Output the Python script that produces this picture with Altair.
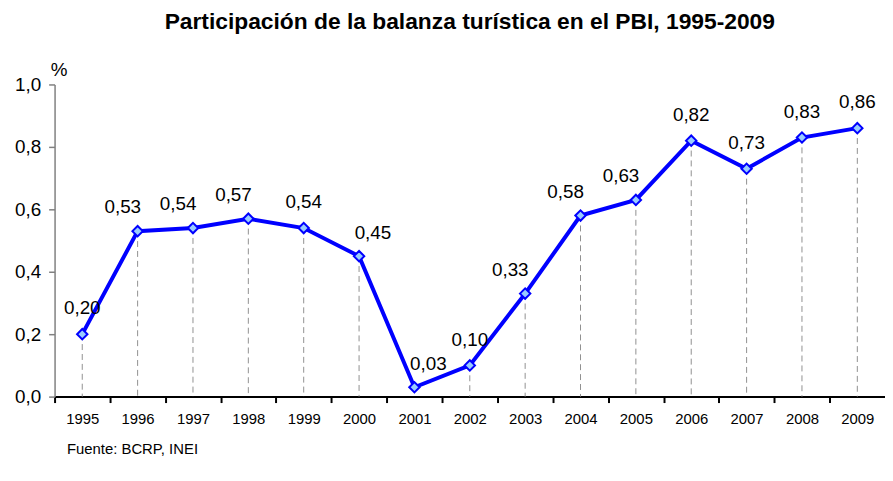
import altair as alt
import pandas as pd

# ---- data ----
years = [1995, 1996, 1997, 1998, 1999, 2000, 2001, 2002, 2003, 2004, 2005, 2006, 2007, 2008, 2009]
values = [0.20, 0.53, 0.54, 0.57, 0.54, 0.45, 0.03, 0.10, 0.33, 0.58, 0.63, 0.82, 0.73, 0.83, 0.86]
y_ticks = [0.0, 0.2, 0.4, 0.6, 0.8, 1.0]
title_text = "Participación de la balanza turística en el PBI, 1995-2009"
source_text = "Fuente: BCRP, INEI"

# label placement groups (styling)
above_years = [1995, 1999, 2002, 2006, 2007, 2008, 2009]
left_years = [1996, 1997, 1998, 2003, 2004, 2005]
right_years = [2000, 2001]

df = pd.DataFrame({"year": years, "value": values})

W, H = 838, 315
FONT = "Liberation Sans"

x_enc = alt.X(
    "year:Q",
    scale=alt.Scale(domain=[years[0] - 0.5, years[-1] + 0.5], nice=False, zero=False),
    axis=alt.Axis(
        values=[y - 0.5 for y in years],
        labelExpr="format(datum.value + 0.5, 'd')",
        labelOffset=W / len(years) / 2,
        labelFontSize=15,
        labelColor="black",
        labelPadding=9,
        labelFlush=False,
        labelOverlap=False,
        grid=False,
        domainColor="black",
        domainWidth=2,
        tickColor="black",
        tickWidth=2,
        tickSize=6,
        title=source_text,
        titleFontSize=15,
        titleFontWeight="normal",
        titleColor="black",
        titleAlign="left",
        titleBaseline="middle",
        titleX=12,
        titleY=52,
    ),
)

y_enc = alt.Y(
    "value:Q",
    scale=alt.Scale(domain=[0, 1], nice=False, zero=True),
    axis=alt.Axis(
        values=y_ticks,
        labelExpr="replace(format(datum.value, '.1f'), '.', ',')",
        labelFontSize=19,
        labelColor="black",
        labelPadding=8,
        grid=False,
        domainColor="#808080",
        domainWidth=1.5,
        tickColor="#808080",
        tickWidth=1.5,
        tickSize=6,
        title="%",
        titleAngle=0,
        titleFontSize=19,
        titleFontWeight="normal",
        titleColor="black",
        titleAlign="center",
        titleBaseline="middle",
        titleX=4,
        titleY=-15,
    ),
)

base = alt.Chart(df)

drops = base.mark_rule(color="#909090", strokeDash=[6, 4], strokeWidth=1).encode(
    x=x_enc, y=alt.Y("value:Q"), y2=alt.datum(0)
)
line = base.mark_line(color="#0000FF", strokeWidth=4).encode(x=x_enc, y=y_enc)
points = base.mark_point(
    shape="diamond", filled=True, fill="#99CCFF", stroke="#0000FF",
    strokeWidth=2, size=110, opacity=1, fillOpacity=1
).encode(x=x_enc, y=y_enc)

label_text = alt.Text("label:N")


def labels(yrs, dx, dy):
    return (
        base.transform_filter(alt.FieldOneOfPredicate(field="year", oneOf=yrs))
        .transform_calculate(label="replace(format(datum.value, '.2f'), '.', ',')")
        .mark_text(fontSize=19, color="black", dx=dx, dy=dy, baseline="middle", align="center", font=FONT)
        .encode(x=x_enc, y=y_enc, text=label_text)
    )


chart = alt.layer(
    drops,
    line,
    points,
    labels(above_years, 0, -26),
    labels(left_years, -15, -24),
    labels(right_years, 14, -23),
).properties(
    width=W,
    height=H,
    autosize="none",
    padding={"left": 47, "top": 75, "right": 0, "bottom": 83},
    title=alt.TitleParams(
        text=title_text, fontSize=23, fontWeight="bold", anchor="middle",
        offset=27, color="black", font=FONT,
    ),
).configure(font=FONT).configure_view(stroke=None)

chart.save("out.html", embed_options={"renderer": "svg", "actions": False})
